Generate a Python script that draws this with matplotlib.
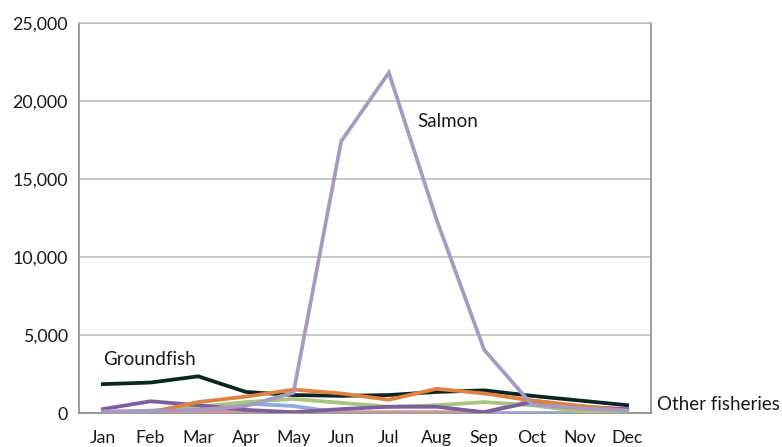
import matplotlib
matplotlib.use("Agg")
import matplotlib.pyplot as plt
from matplotlib.ticker import FuncFormatter

months = ["Jan", "Feb", "Mar", "Apr", "May", "Jun", "Jul", "Aug", "Sep", "Oct", "Nov", "Dec"]

salmon      = [100, 120, 200, 450, 1300, 17400, 21800, 12400, 4050, 550, 300, 150]
groundfish  = [1850, 1950, 2350, 1350, 1150, 1100, 1150, 1350, 1450, 1100, 800, 500]
orange_s    = [0, 50, 700, 1050, 1500, 1250, 850, 1550, 1250, 800, 450, 150]
purple_s    = [250, 750, 500, 200, 50, 250, 400, 400, 50, 700, 400, 250]
green_s     = [0, 50, 400, 700, 900, 650, 400, 500, 700, 500, 100, 50]
blue_s      = [50, 150, 350, 600, 450, 0, 0, 0, 0, 0, 0, 0]
pink_s      = [0, 0, 100, 100, 50, 50, 50, 50, 50, 800, 450, 200]

yticks = [0, 5000, 10000, 15000, 20000, 25000]

plt.rcParams['font.family'] = ['Lato', 'DejaVu Sans']

fig = plt.figure(figsize=(7.82, 4.47), dpi=100)
ax = fig.add_axes([79/782, (447-413)/447, (651-79)/782, (413-22.7)/447])

x = list(range(len(months)))
lw = 2.7
series = [
    (blue_s, "#8FA9D9"),
    (pink_s, "#D39294"),
    (green_s, "#A9C47F"),
    (purple_s, "#7B5E9E"),
    (groundfish, "#0B2424"),
    (orange_s, "#E0823D"),
    (salmon, "#A899C2"),
]
for vals, col in series:
    ax.plot(x, vals, color=col, lw=lw, solid_joinstyle='miter', zorder=3)

ax.set_xlim(-0.5, 11.5)
ax.set_ylim(0, 25000)
ax.set_yticks(yticks)
ax.yaxis.set_major_formatter(FuncFormatter(lambda v, p: f"{int(v):,}"))
ax.set_xticks(x)
ax.set_xticklabels(months)
ax.grid(axis='y', color='#BFBFBF', lw=1.2, zorder=0)
ax.tick_params(axis='both', length=0, labelsize=12.8, colors='#1a1a1a')
ax.tick_params(axis='y', pad=8)
ax.tick_params(axis='x', pad=12)
for side in ['left', 'bottom', 'right']:
    ax.spines[side].set_color('#8C8C8C')
    ax.spines[side].set_linewidth(1.2)
ax.spines['top'].set_color('#BFBFBF')
ax.spines['top'].set_linewidth(1.2)

ax.text(0.0, 3450, "Groundfish", fontsize=13.5, ha='left', va='center', color='#1a1a1a')
ax.text(6.6, 18650, "Salmon", fontsize=13.5, ha='left', va='center', color='#1a1a1a')
ax.text(11.62, 550, "Other fisheries", fontsize=13.5, ha='left', va='center', color='#1a1a1a', clip_on=False)

fig.savefig("out.png", dpi=100)
